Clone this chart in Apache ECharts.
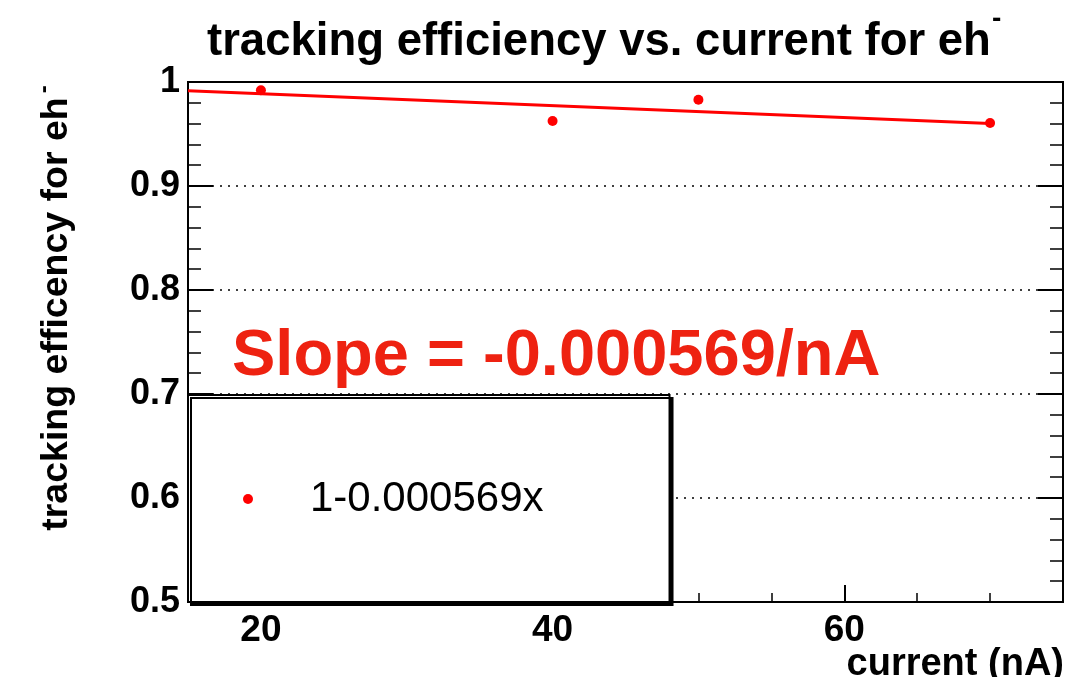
<!DOCTYPE html>
<html>
<head>
<meta charset="utf-8">
<script src="https://cdn.jsdelivr.net/npm/echarts@6/dist/echarts.min.js"></script>
<style>
html,body{margin:0;padding:0;background:#fff;}
#chart{width:1066px;height:677px;}
</style>
</head>
<body>
<div id="chart"></div>
<script>
// ---- data ----
const currentNA = [20, 40, 50, 70];
const efficiency = [0.992, 0.9625, 0.983, 0.9605];
const fitX = [15, 70];
const fitY = [0.9915, 0.9602];
const xMajorTicks = [20, 40, 60];
const xMinorTicks = [25, 30, 35, 45, 50, 55, 65, 70];
const legendLabel = '1-0.000569x';
const titleText = 'tracking efficiency vs. current for eh';
const titleSup = '-';
const yTitleText = 'tracking efficency for eh';
const xTitleText = 'current (nA)';
const slopeText = 'Slope = -0.000569/nA';

const FONT = '"Liberation Sans", Helvetica, Arial, sans-serif';

const chart = echarts.init(document.getElementById('chart'), null, {renderer: 'canvas'});

const scatterData = currentNA.map((x, i) => [x, efficiency[i]]);
const fitData = fitX.map((x, i) => [x, fitY[i]]);

const option = {
  backgroundColor: '#fff',
  animation: false,
  title: [
    {
      text: titleText,
      left: 202,
      top: 14,
      textStyle: {fontFamily: FONT, fontSize: 45.5, fontWeight: 'bold', color: '#000'}
    },
    {
      text: titleSup,
      left: 992,
      top: 5,
      padding: 0,
      textStyle: {fontFamily: FONT, fontSize: 28, fontWeight: 'bold', color: '#000'}
    },
    {
      text: slopeText,
      left: 227,
      top: 320,
      textStyle: {fontFamily: FONT, fontSize: 65, fontWeight: 'bold', color: '#ee2211'}
    },
    {
      text: xTitleText,
      right: 2,
      top: 646,
      padding: 0,
      textStyle: {fontFamily: FONT, fontSize: 38, fontWeight: 'bold', color: '#000'}
    }
  ],
  legend: {
    data: [legendLabel],
    left: 188,
    top: 395,
    orient: 'vertical',
    icon: 'circle',
    itemWidth: 10,
    itemHeight: 10,
    padding: [83, 126, 82, 55],
    backgroundColor: '#fff',
    borderColor: '#000',
    borderWidth: 2,
    shadowColor: '#000',
    shadowBlur: 0,
    shadowOffsetX: 3,
    shadowOffsetY: 3,
    itemStyle: {opacity: 1},
    textStyle: {fontFamily: FONT, fontSize: 42, color: '#000', lineHeight: 42, padding: [0, 0, 0, 52]}
  },
  grid: {
    left: 188, right: 3, top: 82, bottom: 75,
    containLabel: false,
    outerBoundsMode: 'none',
    show: true, borderColor: '#000', borderWidth: 2, backgroundColor: 'transparent'
  },
  xAxis: [
    {
      type: 'value', min: 15, max: 75, position: 'bottom',
      axisLine: {show: true, lineStyle: {color: '#000', width: 2}},
      axisTick: {show: true, inside: true, length: 17, customValues: xMajorTicks, lineStyle: {color: '#000', width: 2}},
      axisLabel: {show: true, customValues: xMajorTicks, margin: 10, fontFamily: FONT, fontSize: 37, fontWeight: 'bold', color: '#000'},
      splitLine: {show: false}
    },
    {
      type: 'value', min: 15, max: 75, position: 'bottom',
      axisLine: {show: false},
      axisTick: {show: true, inside: true, length: 9, customValues: xMinorTicks, lineStyle: {color: '#000', width: 1.5}},
      axisLabel: {show: false},
      splitLine: {show: false}
    }
  ],
  yAxis: [
    {
      type: 'value', min: 0.5, max: 1.0, interval: 0.1, position: 'left',
      axisLine: {show: true, lineStyle: {color: '#000', width: 2}},
      axisTick: {show: true, inside: true, length: 25, lineStyle: {color: '#000', width: 2}},
      minorTick: {show: true, splitNumber: 5, length: 13, lineStyle: {color: '#000', width: 1.5}},
      axisLabel: {margin: 8, fontFamily: FONT, fontSize: 36, fontWeight: 'bold', color: '#000'},
      splitLine: {show: true, lineStyle: {color: '#000', width: 1.5, type: [2, 6]}},
      name: yTitleText + '{sup|-}',
      nameLocation: 'middle',
      nameRotate: 90,
      nameGap: 106,
      nameTextStyle: {
        fontFamily: FONT, fontSize: 37.5, fontWeight: 'bold', color: '#000', padding: [0, 0, 0, 68],
        rich: {sup: {fontFamily: FONT, fontSize: 24, fontWeight: 'bold', color: '#000', verticalAlign: 'top', padding: [0, 0, 26, 4]}}
      }
    },
    {
      type: 'value', min: 0.5, max: 1.0, interval: 0.1, position: 'right',
      axisLine: {show: true, lineStyle: {color: '#000', width: 2}},
      axisTick: {show: true, inside: true, length: 25, lineStyle: {color: '#000', width: 2}},
      minorTick: {show: true, splitNumber: 5, length: 13, lineStyle: {color: '#000', width: 1.5}},
      axisLabel: {show: false},
      splitLine: {show: false}
    }
  ],
  series: [
    {
      name: 'fit',
      type: 'line',
      data: fitData,
      xAxisIndex: 0, yAxisIndex: 0,
      showSymbol: false,
      symbol: 'none',
      lineStyle: {color: '#ff0000', width: 3},
      z: 3
    },
    {
      name: legendLabel,
      type: 'scatter',
      data: scatterData,
      xAxisIndex: 0, yAxisIndex: 0,
      symbol: 'circle',
      symbolSize: 10,
      itemStyle: {color: '#ff0000', opacity: 1},
      z: 4
    }
  ]
};
chart.setOption(option);
</script>
</body>
</html>
